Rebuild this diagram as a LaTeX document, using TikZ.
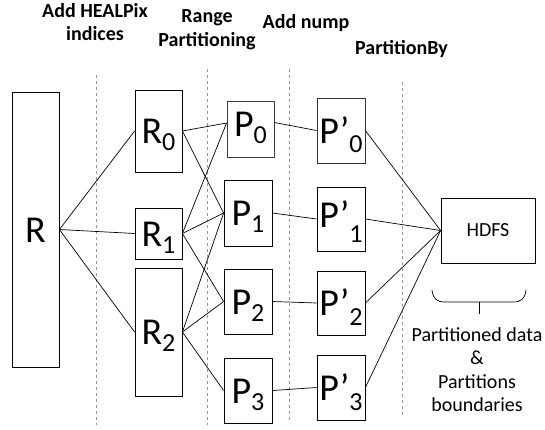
\documentclass[tikz,border=0pt]{standalone}
\usepackage{fontspec}
\setmainfont{Carlito}
\usetikzlibrary{calc}
\newcommand\sbs[2][7pt]{\raisebox{-#1}{\fontsize{26}{26}\selectfont #2}}
\tikzset{
  box/.style={draw=black, line width=0.8pt, inner sep=0pt, minimum width=47pt, text height=25pt, text depth=0pt, font=\fontsize{38}{40}\selectfont},
  title/.style={anchor=base, inner sep=0pt, font=\fontsize{20}{23}\selectfont\bfseries},
  note/.style={anchor=base, inner sep=0pt, font=\fontsize{20}{23}\selectfont},
  sep/.style={draw=gray!80, line width=0.7pt, dash pattern=on 3pt off 3pt},
  link/.style={draw=black, line width=0.7pt}
}
\begin{document}
\begin{tikzpicture}[x=1pt,y=-1pt]
\useasboundingbox (0,0) rectangle (545,429);
% separators
\draw[sep] (96,75) -- (96,425);
\draw[sep] (207,69) -- (207,425);
\draw[sep] (289,69) -- (289,420);
\draw[sep] (402,82) -- (402,417);
% titles
\node[title] (t1a) at (95,17) {Add HEALPix};
\node[title] (t1b) at (95,40) {indices};
\node[title] (t2a) at (207,22) {Range};
\node[title] (t2b) at (207,46) {Partitioning};
\node[title] (t3) at (306,28) {Add nump};
\node[title] (t4) at (401.5,54) {PartitionBy};
% boxes
\node[box, minimum height=275pt] (R) at (35.5,229.5) {R};
\node[box, minimum height=82pt] (R0) at (158.5,131) {R\sbs{0}};
\node[box, minimum height=51pt] (R1) at (158.5,233.5) {R\sbs{1}};
\node[box, minimum height=128pt] (R2) at (158.5,332) {R\sbs{2}};
\node[box, draw=black!75, minimum height=56pt] (P0) at (250.5,129) {\raisebox{5pt}{P\sbs{0}}};
\node[box, minimum width=48pt, minimum height=66pt] (P1) at (248,213) {P\sbs{1}};
\node[box, minimum width=48pt, minimum height=65pt] (P2) at (248,301.5) {P\sbs{2}};
\node[box, minimum width=48pt, minimum height=65pt] (P3) at (248,390.5) {P\sbs{3}};
\node[box, draw=black!80, minimum width=48pt, minimum height=65pt] (Q0) at (341,130.5) {P’\sbs[9pt]{0}};
\node[box, minimum width=48pt, minimum height=64pt] (Q1) at (341,219) {\raisebox{4pt}{P’\sbs[15pt]{1}}};
\node[box, minimum width=48pt, minimum height=64pt] (Q2) at (341,303) {P’\sbs[10pt]{2}};
\node[box, minimum width=48pt, minimum height=65pt] (Q3) at (341,387.5) {P’\sbs[10pt]{3}};
\node[draw=black, line width=0.8pt, inner sep=0pt, minimum width=94pt, minimum height=65pt, font=\fontsize{20}{22}\selectfont] (H) at (488,230.5) {HDFS};
% connectors
\draw[link] (R.east) -- (R0.west);
\draw[link] (R.east) -- (R1.west);
\draw[link] (R.east) -- (R2.west);
\coordinate (P0w) at ($(P0.west)+(0,-6)$);
\coordinate (P0e) at ($(P0.east)+(0,-6.5)$);
\draw[link] (R0.east) -- (P0w);
\draw[link] (R0.east) -- (P1.west);
\draw[link] (R1.east) -- (P0w);
\draw[link] (R1.east) -- (P1.west);
\draw[link] (R1.east) -- (P2.west);
\draw[link] (R2.east) -- (P1.west);
\draw[link] (R2.east) -- (P2.west);
\draw[link] (R2.east) -- (P3.west);
\draw[link] (P0e) -- (Q0.west);
\draw[link] (P1.east) -- (Q1.west);
\draw[link] (P2.east) -- (Q2.west);
\draw[link] (P3.east) -- (Q3.west);
\draw[link] (Q0.east) -- (H.west);
\draw[link] (Q1.east) -- (H.west);
\draw[link] (Q2.east) -- (H.west);
\draw[link] (Q3.east) -- (H.west);
% brace
\coordinate (bl) at (432,290);
\coordinate (br) at (526,290);
\draw[link] (bl) .. controls (433,299) and (437,302) .. (445,302) -- (513,302) .. controls (521,302) and (525,299) .. (br);
\coordinate (tk1) at (479.3,302);
\coordinate (tk2) at (479.3,314);
\draw[link, line width=0.9pt] (tk1) -- (tk2);
% note
\node[note] (n1) at (477,341) {Partitioned data};
\node[note] (n2) at (477,364) {\&};
\node[note] (n3) at (477,388) {Partitions};
\node[note] (n4) at (477,411) {boundaries};
\end{tikzpicture}
\end{document}
